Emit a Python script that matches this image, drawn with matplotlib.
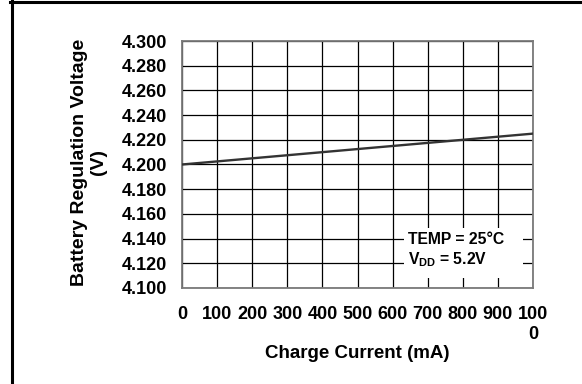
import matplotlib
matplotlib.use("Agg")
import matplotlib.pyplot as plt
from matplotlib.lines import Line2D
from matplotlib.patches import Rectangle

plt.rcParams['font.family'] = ['Liberation Sans', 'DejaVu Sans']
plt.rcParams['font.weight'] = 'bold'
plt.rcParams['mathtext.fontset'] = 'custom'
plt.rcParams['mathtext.rm'] = 'Liberation Sans:bold'
plt.rcParams['mathtext.bf'] = 'Liberation Sans:bold'

# Data
current = [0, 200, 400, 600, 800, 1000]                # mA
voltage = [4.200, 4.205, 4.210, 4.215, 4.220, 4.225]   # V

xticks = [0, 100, 200, 300, 400, 500, 600, 700, 800, 900, 1000]
xticklabels = ['0', '100', '200', '300', '400', '500', '600', '700', '800', '900', '100\n0']
yticks = [4.100, 4.120, 4.140, 4.160, 4.180, 4.200, 4.220, 4.240, 4.260, 4.280, 4.300]
yticklabels = ['%.3f' % v for v in yticks]

W, H = 582, 384
fig = plt.figure(figsize=(W / 100, H / 100), dpi=100)
ax = fig.add_axes([182 / W, (H - 288) / H, 351 / W, 247 / H])

ax.plot(current, voltage, color='#333333', lw=1.7, zorder=4)

ax.set_xlim(0, 1000)
ax.set_ylim(4.100, 4.300)
ax.set_xticks(xticks)
ax.set_xticklabels(xticklabels, multialignment='center')
ax.set_yticks(yticks)
ax.set_yticklabels(yticklabels)
ax.tick_params(axis='both', length=0, labelsize=13)
ax.tick_params(axis='x', pad=13)
ax.tick_params(axis='y', pad=11)
ax.grid(True, color='black', lw=0.9)
ax.set_axisbelow(True)
for s in ax.spines.values():
    s.set_color('#7a7a7a')
    s.set_linewidth(1.3)

ax.set_xlabel('Charge Current (mA)', fontsize=13.5, fontweight='bold')
ax.xaxis.set_label_coords(0.5, -0.23)
ax.set_ylabel('Battery Regulation Voltage\n(V)', fontsize=14, fontweight='bold',
              multialignment='center')
ax.yaxis.set_label_coords(-0.213, 0.51)

# condition box
ax.add_patch(Rectangle((0.632, 0.04), 0.34, 0.203, transform=ax.transAxes,
                       facecolor='white', edgecolor='none', zorder=3))
ax.text(0.644, 0.195, 'TEMP = 25°C', transform=ax.transAxes, fontsize=11.3,
        fontweight='bold', va='center', ha='left', zorder=5)
ax.text(0.644, 0.113, r'V$_{\mathrm{DD}}$ = 5.2V', transform=ax.transAxes, fontsize=11.3,
        fontweight='bold', va='center', ha='left', zorder=5)

# frame around figure (top and left edges visible)
fig.add_artist(Line2D([11.5 / W, 11.5 / W], [0, 1 - 1 / H], color='black', lw=2.2,
                      transform=fig.transFigure))
fig.add_artist(Line2D([10.5 / W, 1], [1 - 2 / H, 1 - 2 / H], color='black', lw=2.2,
                      transform=fig.transFigure))

plt.savefig('out.png', dpi=100)
